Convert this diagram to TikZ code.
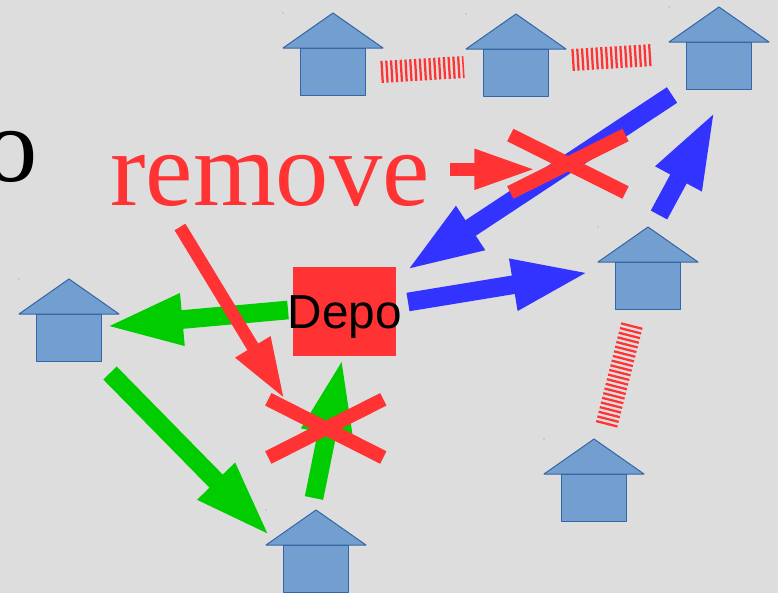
\documentclass[tikz,border=0pt]{standalone}
\usepackage{fontspec}
\usetikzlibrary{arrows.meta}
\setmainfont{Liberation Serif}
\newfontfamily\depofont{Liberation Sans}
\definecolor{housefill}{HTML}{729FCF}
\definecolor{houseline}{HTML}{3465A4}
\definecolor{removered}{HTML}{FF3333}
\definecolor{routeblue}{HTML}{3333FF}
\definecolor{routegreen}{HTML}{00CC00}
\tikzset{
    pics/house/.style={code={
        \draw[houseline, fill=housefill, line width=0.75pt, line join=round] (-32.5, 35) rectangle (32.5, 82);
        \draw[houseline, fill=housefill, line width=0.75pt, line join=round] (0, 0) -- (50, 35) -- (-50, 35) -- cycle;
        \fill[housefill] (-50, 0) circle (0.6);
    }},
    bigarrow/.style={-{Triangle[length=59pt, width=35pt]}, line width=14pt, shorten >=-4.5pt},
    smallarrow/.style={-{Triangle[length=46pt, width=28pt]}, line width=9.5pt, shorten >=-2pt, removered},
    crossline/.style={removered, line width=10.5pt},
    hatchline/.style={removered, line width=16.5pt, dash pattern=on 1.7pt off 1.9pt}
}

\begin{document}
\begin{tikzpicture}[x=0.75pt, y=-0.75pt]
    \fill[fill={rgb,255:red,221;green,221;blue,221}] (0, 0) rectangle (778, 593);
    \useasboundingbox (0, 0) rectangle (778, 593);

    % houses
    \pic (house_a) at (333, 13) {house};
    \pic (house_b) at (516, 14) {house};
    \pic (house_c) at (719, 7) {house};
    \pic (house_d) at (648, 227) {house};
    \pic (house_e) at (69, 279) {house};
    \pic (house_f) at (594, 439) {house};
    \pic (house_g) at (316, 510) {house};

    \node (depo) [rectangle, fill=removered, minimum width=77.25pt, minimum height=66.75pt, inner sep=0pt, shift={(344.5, 311.5)}] {};

    % free ends
    \coordinate (blue_a_start) at (672, 95);
    \coordinate (blue_a_end) at (410, 268);
    \coordinate (blue_b_start) at (408, 302);
    \coordinate (blue_b_end) at (585, 273);
    \coordinate (blue_c_start) at (659, 215);
    \coordinate (blue_c_end) at (713, 115);
    \coordinate (green_a_start) at (288, 310);
    \coordinate (green_a_end) at (110, 326);
    \coordinate (green_b_start) at (110, 373);
    \coordinate (green_b_end) at (267, 533);
    \coordinate (green_c_start) at (314, 498);
    \coordinate (green_c_end) at (341.5, 362.5);
    \coordinate (red_a_start) at (449.5, 169.3);
    \coordinate (red_a_end) at (533, 169.3);
    \coordinate (red_b_start) at (180, 227);
    \coordinate (red_b_end) at (283.3, 397);

    \draw[bigarrow, routeblue] (blue_a_start) to (blue_a_end);
    \draw[bigarrow, routeblue] (blue_b_start) to (blue_b_end);
    \draw[bigarrow, routeblue] (blue_c_start) to (blue_c_end);
    \draw[bigarrow, routegreen] (green_a_start) to (green_a_end);
    \draw[bigarrow, routegreen] (green_b_start) to (green_b_end);
    \draw[bigarrow, routegreen] (green_c_start) to (green_c_end);
    \draw[smallarrow] (red_a_start) to (red_a_end);
    \draw[smallarrow] (red_b_start) to (red_b_end);

    % crosses
    \coordinate (cross_a_nw) at (510.3, 135);
    \coordinate (cross_a_se) at (625.5, 192.5);
    \coordinate (cross_a_ne) at (625.5, 135);
    \coordinate (cross_a_sw) at (510.3, 192.5);
    \coordinate (cross_b_nw) at (268.3, 399.3);
    \coordinate (cross_b_se) at (383.3, 457.5);
    \coordinate (cross_b_ne) at (383.3, 399.3);
    \coordinate (cross_b_sw) at (268.3, 457.5);
    \draw[crossline] (cross_a_nw) to (cross_a_se);
    \draw[crossline] (cross_a_ne) to (cross_a_sw);
    \draw[crossline] (cross_b_nw) to (cross_b_se);
    \draw[crossline] (cross_b_ne) to (cross_b_sw);

    % removed links
    \coordinate (hatch_a_start) at (381, 72);
    \coordinate (hatch_a_end) at (464, 67);
    \coordinate (hatch_b_start) at (572, 60);
    \coordinate (hatch_b_end) at (653, 55);
    \coordinate (hatch_c_start) at (632, 325);
    \coordinate (hatch_c_end) at (606, 427);
    \draw[hatchline] (hatch_a_start) to (hatch_a_end);
    \draw[hatchline] (hatch_b_start) to (hatch_b_end);
    \draw[hatchline] (hatch_c_start) to (hatch_c_end);

    \node (depo_label) [inner sep=0pt, shift={(345, 317)}] {\depofont\fontsize{35.8}{40}\selectfont Depo};
    \node (remove_label) [inner sep=0pt, text=removered, anchor=base, shift={(270, 205)}] {\fontsize{79.9}{90}\selectfont remove};
    \node (cut_label) [inner sep=0pt, anchor=base, shift={(11, 181)}] {\fontsize{79.9}{90}\selectfont o};
\end{tikzpicture}
\end{document}
